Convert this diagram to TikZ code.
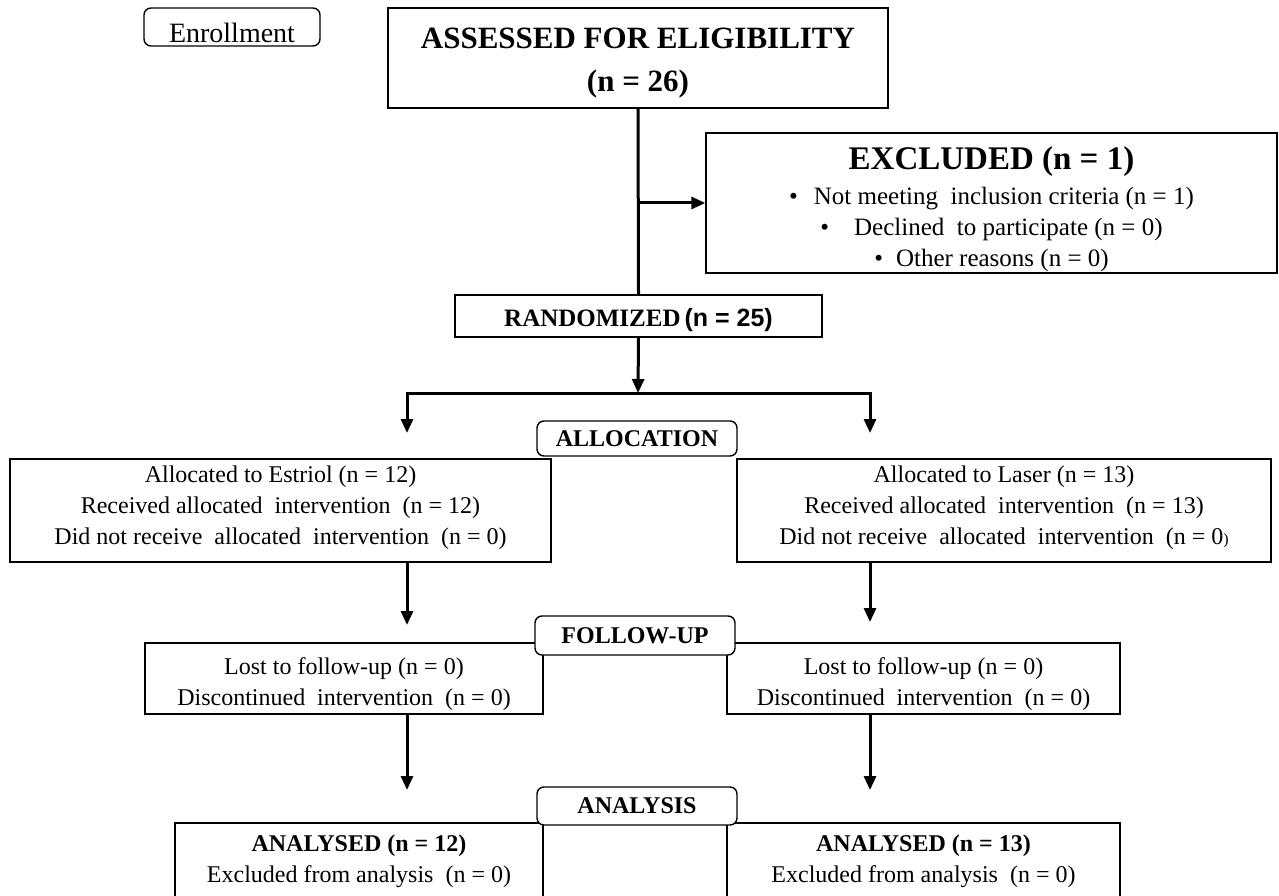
\documentclass[tikz,border=0pt]{standalone}
\usepackage{fontspec}
\setmainfont{Liberation Serif}
\newfontfamily\arialfont{Liberation Sans}
\usetikzlibrary{arrows.meta}
\begin{document}
\begin{tikzpicture}[x=1pt,y=-1pt,
  box/.style={draw, line width=1.4pt, inner sep=0pt, align=center, font=\fontsize{24}{31}\selectfont},
  lab/.style={box, rounded corners=7pt, fill=white, font=\fontsize{24}{30}\selectfont\bfseries},
  conn/.style={line width=3pt},
  arr/.style={conn, -{Triangle[width=12pt,length=14pt]}},
  arrboth/.style={conn, {Triangle[width=12pt,length=14pt]}-{Triangle[width=12pt,length=14pt]}}]
\useasboundingbox (0,0) rectangle (1279,896);
\fill[white] (0,0) rectangle (1279,896);

% boxes
\node[lab, font=\fontsize{28}{32}\selectfont, minimum width=176, minimum height=38] (enroll) at (232,27)
  {\raisebox{-16pt}[0pt][0pt]{Enrollment}};
\node[box, minimum width=500, minimum height=100] (assess) at (638,58)
  {\rule{0pt}{30pt}\fontsize{31}{41}\selectfont\bfseries ASSESSED FOR ELIGIBILITY\\[12pt]\fontsize{31}{41}\selectfont\bfseries (n = 26)};
\node[box, font=\fontsize{25}{31}\selectfont, minimum width=571, minimum height=140] (excl) at (991.5,203)
  {{\rule{0pt}{36pt}\fontsize{33}{38}\selectfont\bfseries EXCLUDED (n = 1)}\\[4pt]
   •\hspace{16pt}Not meeting\ \ inclusion criteria (n = 1)\\
   •\hspace{25pt}Declined\ \ to participate (n = 0)\\
   •\hspace{13pt}Other reasons (n = 0)};
\node[box, minimum width=367, minimum height=42] (rand) at (638.5,316)
  {\rule{0pt}{26pt}{\fontsize{25}{30}\selectfont\bfseries RANDOMIZED}\,{\arialfont\fontsize{25}{30}\selectfont\bfseries (n = 25)}};

\node[box, minimum width=541, minimum height=103] (allocL) at (280.5,510.5)
  {Allocated to Estriol (n = 12)\\ Received allocated\ \ intervention\ \ (n = 12)\\ Did not receive\ \ allocated\ \ intervention\ \ (n = 0)\rule[-11pt]{0pt}{1pt}};
\node[box, minimum width=534, minimum height=103] (allocR) at (1004,510.5)
  {Allocated to Laser (n = 13)\\ Received allocated\ \ intervention\ \ (n = 13)\\ Did not receive\ \ allocated\ \ intervention\ \ (n = 0{\fontsize{16}{20}\selectfont)}\rule[-11pt]{0pt}{1pt}};
\node[lab, minimum width=200, minimum height=35] (allocLab) at (637,438.5) {ALLOCATION};

\node[box, minimum width=398, minimum height=71] (fuL) at (344,678.5)
  {\rule{0pt}{29pt}Lost to follow-up (n = 0)\\ Discontinued\ \ intervention\ \ (n = 0)};
\node[box, minimum width=393, minimum height=71] (fuR) at (923.5,678.5)
  {\rule{0pt}{29pt}Lost to follow-up (n = 0)\\ Discontinued\ \ intervention\ \ (n = 0)};
\node[lab, minimum width=200, minimum height=39] (fuLab) at (635,635.5) {FOLLOW-UP};

\begin{scope}
\clip (0,0) rectangle (1279,896);
\node[box, minimum width=368, minimum height=76] (anL) at (359,861)
  {\textbf{ANALYSED (n = 12)}\\ Excluded from analysis\ \ (n = 0)};
\node[box, minimum width=393, minimum height=76] (anR) at (923.5,861)
  {\textbf{ANALYSED (n = 13)}\\ Excluded from analysis\ \ (n = 0)};
\end{scope}
\node[lab, minimum width=200, minimum height=38] (anLab) at (637,806) {ANALYSIS};

% free ends
\coordinate (split) at (638,393);
\coordinate (aL) at (407,433);
\coordinate (aR) at (870,433);
\coordinate (fL) at (407,625);
\coordinate (fR) at (870,622);
\coordinate (nL) at (407,790);
\coordinate (nR) at (870,790);

% connectors
\draw[conn] (assess.south) -- (rand.north);
\draw[arr] (assess.south |- excl.west) -- (excl.west);
\draw[arr] (rand.south) -- (split);
\draw[arrboth] (aL) |- (split) -| (aR);
\draw[arr] (aL |- allocL.south) -- (fL);
\draw[arr] (aR |- allocR.south) -- (fR);
\draw[arr] (fL |- fuL.south) -- (nL);
\draw[arr] (fR |- fuR.south) -- (nR);
\end{tikzpicture}
\end{document}
